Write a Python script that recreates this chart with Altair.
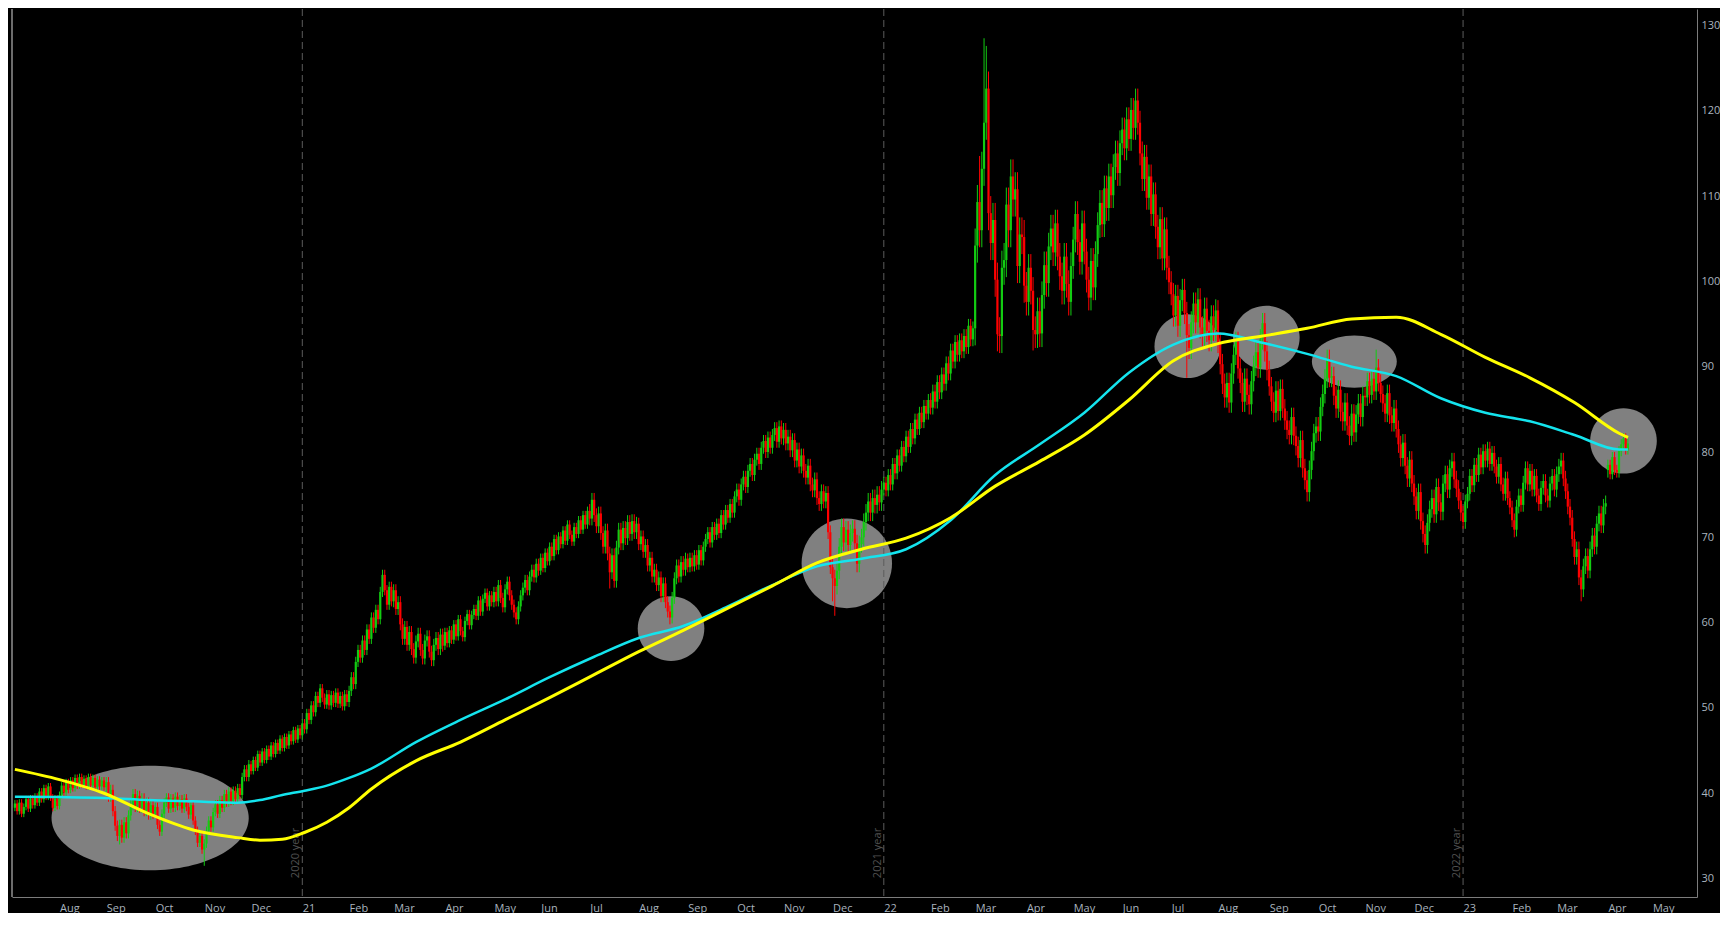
import altair as alt
import pandas as pd

# ---------------- data ----------------
# daily closes, one row per month (trading days)
close_2020 = [
    38.8, 37.9, 38.9, 37.6, 38.4, 39.3, 38.2, 39.4, 38.6, 39.6, 38.9, 40.2, 39.3, 40.6, 39.6, 40.8, 39.5, 38.3, 39.4, 38.5,
    39.8, 40.9, 40.1, 41.3, 40.4, 41.5, 40.6, 41.8, 40.9, 41.9, 41.0, 41.7, 40.8, 41.9, 40.9, 41.8, 40.7, 41.6, 40.8, 41.5, 40.7,
    41.3, 39.6, 40.4, 37.9, 36.2, 35.0, 36.3, 34.8, 36.6, 35.3, 37.4, 38.6, 39.9, 38.4, 39.7, 38.3, 39.4, 37.9, 38.9, 37.5, 38.6, 37.6,
    38.4, 36.3, 35.5, 37.6, 38.9, 39.5, 38.2, 39.4, 38.3, 39.6, 38.5, 39.3, 38.2, 39.4, 38.4, 37.5, 38.6, 36.8, 35.6, 34.2, 35.0, 33.4,
    34.1, 35.6, 36.8, 36.0, 37.8, 38.7, 37.6, 39.2, 38.3, 39.9, 38.9, 40.2, 39.1, 40.3, 39.3, 40.6, 39.8, 41.9, 42.8, 41.9, 43.4,
    42.6, 43.9, 43.0, 44.6, 43.6, 44.9, 43.9, 45.2, 44.3, 45.6, 44.6, 45.9, 45.0, 46.4, 45.3, 46.6, 45.6, 46.9, 46.1, 47.4, 46.3, 47.6, 46.8,
]
close_2021 = [
    48.2, 47.5, 49.4, 48.6, 50.3, 49.5, 51.4, 50.6, 52.3, 51.2, 50.4, 51.6, 50.3, 51.5, 50.6, 51.8, 50.5, 51.4, 50.2, 51.6, 50.7,
    52.0, 53.6, 52.8, 55.4, 56.8, 55.9, 57.9, 56.8, 59.2, 58.1, 60.6, 59.4, 61.5, 60.4, 63.6, 65.6, 63.8, 62.1, 64.2, 62.5,
    63.8, 61.6, 62.4, 59.8, 58.1, 59.5, 57.4, 58.9, 56.9, 55.9, 57.8, 58.7, 56.8, 55.8, 57.9, 58.4, 56.6, 55.6, 57.4, 58.2, 56.9, 58.6, 57.3,
    58.9, 57.6, 59.1, 58.0, 59.8, 58.4, 60.4, 59.0, 58.3, 60.2, 61.0, 59.7, 60.9, 61.6, 60.8, 62.6, 61.3, 62.8, 63.5, 61.9, 63.2, 62.4,
    63.6, 62.5, 64.4, 62.9, 61.8, 63.9, 64.8, 63.2, 62.1, 61.2, 60.4, 61.9, 63.2, 64.1, 65.0, 63.8, 65.4, 66.2, 65.3, 66.9, 66.1,
    67.6, 66.4, 68.2, 67.2, 68.9, 67.8, 69.8, 68.5, 70.1, 69.2, 70.8, 69.6, 71.5, 70.3, 69.5, 71.2, 70.4, 72.0, 70.9, 72.6, 71.5, 73.1,
    72.2, 74.4, 72.6, 71.3, 72.8, 70.5, 68.9, 70.8, 68.1, 65.9, 67.9, 64.9, 68.8, 70.9, 69.3, 71.1, 69.9, 71.8, 70.4, 71.9, 70.6, 71.6,
    69.2, 70.1, 68.3, 69.1, 66.7, 67.6, 65.4, 66.2, 64.4, 65.3, 63.1, 64.6, 62.4, 61.3, 60.6, 62.9, 65.2, 66.7, 65.4, 67.1, 66.2, 67.5,
    66.5, 67.6, 66.6, 67.9, 66.8, 68.5, 67.3, 68.9, 69.8, 70.6, 69.4, 71.2, 70.3, 71.6, 70.5, 72.6, 71.5, 73.2, 72.3, 73.9, 72.9, 74.8,
    75.6, 74.4, 76.2, 77.1, 75.9, 77.8, 78.6, 77.3, 79.1, 79.8, 78.6, 80.5, 81.3, 80.0, 81.7, 80.5, 82.0, 82.8, 81.2, 83.0, 81.6,
    82.6, 81.0, 81.8, 80.2, 81.4, 79.0, 80.3, 78.3, 79.6, 77.8, 77.0, 78.4, 76.2, 75.5, 76.8, 74.6, 73.9, 75.4, 74.2, 75.2, 70.6, 66.5,
    65.2, 64.3, 66.1, 68.9, 71.2, 69.4, 70.9, 69.1, 70.5, 71.0, 69.3, 66.9, 69.2, 70.0, 71.8, 72.9, 74.2, 72.9, 74.6, 73.8, 75.0, 74.1, 75.6,
]
close_2022 = [
    76.4, 75.5, 77.3, 76.2, 78.6, 77.5, 79.6, 78.4, 80.6, 79.5, 81.8, 80.6, 82.7, 81.6, 83.8, 82.7, 84.6, 83.5, 85.4, 84.5, 86.1,
    85.2, 87.1, 85.9, 88.2, 87.0, 89.1, 88.0, 90.4, 89.2, 91.9, 90.6, 92.9, 91.4, 93.1, 91.8, 93.6, 92.3, 94.8, 93.2, 94.5,
    104.2, 109.3, 106.0, 113.2, 118.6, 122.6, 108.0, 104.5, 107.2, 100.2, 93.8, 93.6, 101.6, 102.5, 109.0, 106.0, 112.3, 109.6, 110.8, 101.8, 105.5, 105.2, 99.5,
    97.6, 101.6, 98.9, 94.3, 93.8, 96.5, 93.9, 98.4, 101.9, 99.8, 104.1, 106.2, 103.4, 106.8, 102.9, 100.6, 98.9, 102.9, 99.7, 97.6, 101.8,
    104.9, 107.9, 104.6, 102.3, 106.8, 103.5, 100.2, 98.1, 102.4, 99.3, 103.2, 106.6, 109.2, 106.7, 110.9, 108.6, 112.3, 110.1, 113.4, 115.0, 112.7, 116.2,
    117.8, 115.6, 119.0, 116.7, 120.1, 118.0, 121.2, 118.6, 115.0, 112.0, 114.6, 109.8, 112.3, 107.9, 110.2, 106.4, 104.0, 107.3, 102.7, 106.1, 101.6, 99.9,
    98.5, 96.0, 98.3, 94.8, 97.8, 99.0, 96.3, 93.7, 92.2, 95.2, 97.4, 95.2, 97.9, 94.6, 93.7, 96.8, 94.2, 93.1, 95.9, 94.3, 96.6,
    92.8, 90.3, 88.0, 86.4, 88.1, 85.8, 89.2, 91.4, 92.9, 89.8, 88.1, 85.9, 88.6, 86.7, 85.6, 88.3, 90.1, 91.7, 89.9, 93.2, 95.1, 91.8, 89.6,
    87.7, 85.9, 84.6, 87.2, 84.8, 87.4, 85.1, 83.7, 82.6, 82.0, 84.1, 81.9, 80.7, 79.3, 81.4, 78.1, 76.7, 75.3, 77.9, 80.1, 82.2, 83.0,
    82.4, 85.3, 86.8, 88.6, 90.9, 88.7, 88.9, 86.6, 85.1, 87.3, 84.7, 83.6, 85.8, 83.1, 81.9, 84.5, 82.3, 84.4, 85.7, 84.1, 86.6,
    86.4, 88.3, 86.7, 88.6, 87.1, 89.9, 88.1, 86.8, 85.7, 84.5, 86.9, 84.3, 83.4, 85.1, 82.7, 80.9, 79.3, 81.1, 78.4, 76.9, 79.1, 76.3,
    74.8, 73.1, 75.3, 71.9, 70.4, 69.1, 71.7, 73.3, 74.6, 72.7, 75.9, 74.1, 73.0, 76.3, 77.4, 75.6, 78.1, 78.9, 76.8, 75.7, 74.3, 72.9,
]
close_2023 = [
    71.8, 74.2, 75.1, 77.2, 76.1, 78.5, 77.3, 79.7, 78.2, 80.1, 79.0, 80.4, 78.6, 79.9, 78.3, 77.1, 78.6, 76.2, 75.1, 76.9, 74.6, 73.5,
    72.0, 70.9, 73.6, 74.9, 73.8, 76.4, 78.1, 76.2, 77.8, 75.6, 77.2, 74.9, 73.9, 75.8, 76.6, 74.9, 74.3, 76.3, 77.2, 75.6,
    77.4, 78.3, 79.0, 76.9, 75.4, 73.6, 72.3, 69.8, 67.7, 68.6, 65.3, 63.9, 66.6, 67.8, 66.1, 68.6, 70.2, 68.9, 71.6, 72.8, 71.4, 73.6, 74.0,
    78.5, 77.4, 79.4, 77.9, 77.6, 80.1, 80.9, 81.6, 80.3, 81.0,
]
first_open = 38.3
gap_opens = {715: 77.9}
# typical wick length per month, Jul 2020 .. Apr 2023
wick_month = [0.4, 0.4, 0.6, 0.5, 0.5, 0.4,
              0.5, 0.6, 0.7, 0.5, 0.6, 0.5, 0.8, 0.7, 0.6, 0.7, 0.8, 1.0,
              0.7, 0.8, 2.0, 1.6, 1.5, 1.4, 1.3, 1.2, 1.1, 1.1, 1.0, 1.0,
              0.8, 0.8, 0.9, 0.6]
wick_high = {433: 114.7, 435: 128.5, 436: 127.6, 437: 123.5, 503: 121.8, 560: 96.0, 589: 91.8, 611: 92.0}
wick_low = {47: 34.0, 85: 31.5, 267: 64.0, 294: 59.8, 367: 62.5, 368: 60.8, 441: 91.8, 457: 91.9,
            526: 88.7, 581: 75.0, 633: 68.2, 673: 70.0, 703: 62.5, 715: 77.0}

# moving averages (bar index, value)
ma_idx = [0, 20, 40, 60, 80, 100, 110, 120, 130, 140, 150, 160, 180, 200, 220, 240, 260, 280, 300, 320, 340, 360,
          380, 400, 420, 440, 460, 480, 500, 520, 540, 560, 580, 600, 620, 640, 660, 680, 700, 720, 724]
ma_yellow = [42.8, 41.6, 40.0, 37.6, 35.7, 34.8, 34.5, 34.6, 35.4, 36.6, 38.3, 40.5, 43.8, 46.0, 48.6, 51.2, 53.9,
             56.6, 59.1, 61.7, 64.3, 67.0, 68.6, 69.9, 72.3, 76.0, 78.9, 82.0, 86.1, 90.7, 92.7, 93.6, 94.5, 95.6,
             95.8, 93.8, 91.1, 88.7, 85.8, 82.2, 81.7]
ma_cyan = [39.6, 39.55, 39.45, 39.2, 39.05, 38.9, 39.2, 39.8, 40.3, 40.9, 41.8, 42.9, 46.0, 48.6, 51.0, 53.6, 56.0,
           58.2, 59.6, 61.9, 64.4, 66.6, 67.5, 68.6, 72.0, 77.3, 80.9, 84.6, 89.3, 92.6, 93.9, 92.8, 91.5, 90.0,
           88.9, 86.3, 84.6, 83.6, 82.0, 80.3, 80.3]

# highlighted zones: centre (bar index, price) and extent (bars, price units)
ell_idx = [60.7, 294.5, 373.4, 526.3, 561.7, 601.2, 722.0]
ell_price = [37.1, 59.3, 66.95, 92.4, 93.4, 90.6, 81.3]
ell_w = [88.5, 29.9, 40.6, 29.6, 29.9, 38.1, 29.9]
ell_h = [12.25, 7.59, 10.5, 7.47, 7.5, 6.14, 7.66]

year_labels = ["2020 year", "2021 year", "2022 year"]
month_names = ["Jan", "Feb", "Mar", "Apr", "May", "Jun", "Jul", "Aug", "Sep", "Oct", "Nov", "Dec"]

# ---------------- build tables ----------------
closes = close_2020 + close_2021 + close_2022 + close_2023
n = len(closes)
dates = pd.bdate_range("2020-07-06", periods=n)
month_keys = sorted(set(zip(dates.year, dates.month)))
wick_of = dict(zip(month_keys, wick_month))

opens = [first_open] + closes[:-1]
for k, v in gap_opens.items():
    opens[k] = v
highs, lows = [], []
for j, (o, c) in enumerate(zip(opens, closes)):
    w = wick_of[(dates[j].year, dates[j].month)]
    highs.append(max(o, c) + w)
    lows.append(min(o, c) - w)
for k, v in wick_high.items():
    highs[k] = max(highs[k], v)
for k, v in wick_low.items():
    lows[k] = min(lows[k], v)
df = pd.DataFrame({
    "i": list(range(n)), "o": opens, "c": closes, "h": highs, "l": lows,
    "dir": ["up" if c >= o else "down" for o, c in zip(opens, closes)],
})

all_days = pd.bdate_range("2020-07-06", "2023-05-31")
pos = pd.Series(range(len(all_days)), index=all_days)
firsts = pos.groupby([all_days.year, all_days.month]).min()
m_vals, m_labels, jan_idx = [], [], []
for (yy, mm), ix in firsts.items():
    if ix == 0:
        continue
    m_vals.append(int(ix))
    if mm == 1:
        m_labels.append(str(yy)[2:])
        jan_idx.append(int(ix))
    else:
        m_labels.append(month_names[mm - 1])
label_expr = "[" + ",".join("'%s'" % s for s in m_labels) + "][indexof([" + \
    ",".join(str(v) for v in m_vals) + "], datum.value)]"

years_df = pd.DataFrame({"i": jan_idx, "label": year_labels})
ma_df = pd.DataFrame({"i": ma_idx, "yellow": ma_yellow, "cyan": ma_cyan})

# ---------------- layout / style ----------------
W, H = 1685, 888
XMIN, XMAX = -1.3, 755.0
YMIN, YMAX = 27.84, 131.93
GREEN, RED = "#12cc12", "#ff0000"
YELLOW, CYAN = "#ffff00", "#14e4ee"
AXIS_COL, LABEL_COL = "#7c7c7c", "#a9b4bf"
FONT = "Open Sans"

px_per_bar = W / (XMAX - XMIN)
px_per_unit = H / (YMAX - YMIN)
k = 0.5523
paths, sizes = [], []
for w, h in zip(ell_w, ell_h):
    wp, hp = w * px_per_bar, h * px_per_unit
    b = hp / wp
    paths.append(
        f"M 1 0 C 1 {k*b:.4f} {k} {b:.4f} 0 {b:.4f} C {-k} {b:.4f} -1 {k*b:.4f} -1 0 "
        f"C -1 {-k*b:.4f} {-k} {-b:.4f} 0 {-b:.4f} C {k} {-b:.4f} 1 {-k*b:.4f} 1 0 Z")
    sizes.append(wp * wp)
ell_df = pd.DataFrame({"i": ell_idx, "p": ell_price, "path": paths, "sz": sizes})

x_axis = alt.Axis(orient="bottom", values=m_vals, labelExpr=label_expr, title=None, grid=False,
                  ticks=False, labelAlign="left", labelPadding=5, domainColor=AXIS_COL,
                  labelColor=LABEL_COL, labelFontSize=11, labelFont=FONT, labelOverlap=False,
                  labelFlush=False)
y_axis = alt.Axis(orient="right", values=list(range(30, 131, 10)), title=None, grid=False,
                  ticks=False, labelPadding=4, domainColor=AXIS_COL, labelColor=LABEL_COL,
                  labelFontSize=11, labelFont=FONT, labelAlign="left")


def X(field):
    return alt.X(f"{field}:Q", scale=alt.Scale(domain=[XMIN, XMAX], nice=False, zero=False), axis=x_axis)


def Y(field):
    return alt.Y(f"{field}:Q", scale=alt.Scale(domain=[YMIN, YMAX], nice=False, zero=False), axis=y_axis)


color = alt.Color("dir:N", scale=alt.Scale(domain=["up", "down"], range=[GREEN, RED]), legend=None)

ellipses = alt.Chart(ell_df).mark_point(filled=True, opacity=1, color="#808080", strokeWidth=0).encode(
    x=X("i"), y=Y("p"),
    shape=alt.Shape("path:N", scale=None, legend=None),
    size=alt.Size("sz:Q", scale=None, legend=None),
)
year_rules = alt.Chart(years_df).mark_rule(color="#5c5c5c", strokeDash=[7, 4], strokeWidth=1).encode(
    x=X("i"), y=alt.value(0), y2=alt.value(H))
year_text = alt.Chart(years_df).mark_text(angle=270, align="center", baseline="bottom", dy=-1,
                                          color="#505050", fontSize=11, font=FONT).encode(
    x=X("i"), y=alt.value(H - 44), text="label:N")
wicks = alt.Chart(df).mark_rule(strokeWidth=1).encode(x=X("i"), y=Y("l"), y2="h:Q", color=color)
bodies = alt.Chart(df).mark_rule(strokeWidth=2.2, strokeCap="butt").encode(
    x=X("i"), y=Y("o"), y2="c:Q", color=color)
line_c = alt.Chart(ma_df).mark_line(color=CYAN, strokeWidth=2.5, interpolate="monotone").encode(
    x=X("i"), y=Y("cyan"))
line_y = alt.Chart(ma_df).mark_line(color=YELLOW, strokeWidth=3, interpolate="monotone").encode(
    x=X("i"), y=Y("yellow"))
left_edge = alt.Chart(years_df).mark_rule(color=AXIS_COL, strokeWidth=1).encode(
    x=alt.value(0), y=alt.value(0), y2=alt.value(H))

chart = alt.layer(ellipses, year_rules, year_text, wicks, bodies, line_c, line_y, left_edge).properties(
    width=W, height=H, background="#000000",
    padding={"left": 0, "top": 0, "right": 0, "bottom": 0},
).configure_view(stroke=None)

chart.save("out.html", embed_options={"renderer": "svg", "actions": False})
